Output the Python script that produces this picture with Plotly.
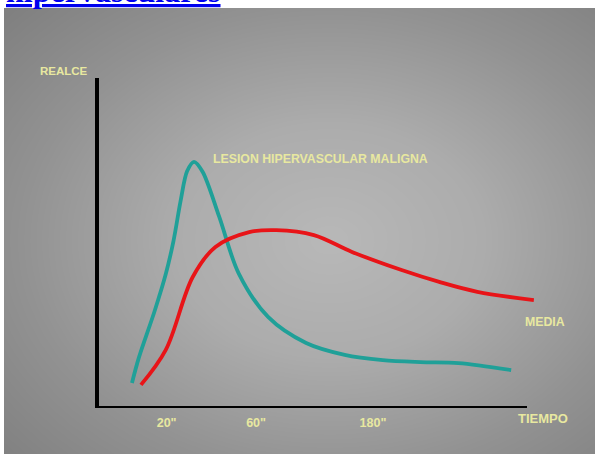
import numpy as np
import plotly.graph_objects as go

# ---- data (arbitrary units: x 0-100 along time axis, y 0-100 enhancement) ----
teal_x = [7.7, 9.3, 13.0, 15.6, 17.4, 19.1, 20.6, 22.2, 24.2, 28.1, 32.6, 39.5, 48.4, 57.4, 66.3, 75.1, 84.0, 96.3]
teal_y = [7.6, 15.2, 29.4, 40.6, 50.6, 63.0, 71.8, 74.6, 71.6, 57.9, 40.9, 27.6, 19.7, 16.1, 14.5, 13.9, 13.6, 11.5]

red_x = [9.8, 15.6, 21.9, 27.2, 35.1, 41.4, 50.2, 59.1, 70.7, 79.5, 88.4, 101.6]
red_y = [7.0, 17.6, 39.7, 48.8, 53.3, 53.9, 52.4, 47.3, 41.8, 38.2, 35.2, 32.7]

tick_vals = [15.8, 36.7, 64.0]
tick_text = ['20"', '60"', '180"']

teal_label = "LESION HIPERVASCULAR MALIGNA"
red_label = "MEDIA"
y_title = "REALCE"
x_title = "TIEMPO"
link_text = "hipervasculares"

W, H = 599, 454
TXT = "rgb(232,232,160)"

# background radial gradient (decoration)
gx = np.linspace(0, 1, 80)
gy = np.linspace(0, 1, 60)
GX, GY = np.meshgrid(gx, gy)
r = np.sqrt(((GX - 0.55) / 0.62) ** 2 + ((GY - 0.52) / 0.62) ** 2)
z = np.clip(r, 0, 1.2)

fig = go.Figure()
fig.add_trace(go.Heatmap(
    x=gx, y=gy, z=z, zsmooth="best", showscale=False, hoverinfo="skip",
    colorscale=[[0, "rgb(184,184,184)"], [0.35, "rgb(172,172,172)"], [0.7, "rgb(146,146,146)"], [1, "rgb(128,128,128)"]],
    zmin=0, zmax=1.2, xaxis="x", yaxis="y"))

fig.add_trace(go.Scatter(x=teal_x, y=teal_y, mode="lines", line=dict(color="rgb(32,160,152)", width=3.8, shape="spline", smoothing=0.9),
                         xaxis="x2", yaxis="y2", hoverinfo="skip"))
fig.add_trace(go.Scatter(x=red_x, y=red_y, mode="lines", line=dict(color="rgb(232,20,24)", width=3.8, shape="spline", smoothing=1.0),
                         xaxis="x2", yaxis="y2", hoverinfo="skip"))

# plot area in pixels
xl, xr = 99, 562
yt, yb = 78, 408
xunit_px = 4.28
x_max = (xr - xl) / xunit_px

fig.update_layout(
    width=W, height=H, margin=dict(l=0, r=0, t=0, b=0),
    paper_bgcolor="white", plot_bgcolor="rgba(0,0,0,0)", showlegend=False,
    xaxis=dict(domain=[4 / W, 595 / W], range=[0, 1], visible=False, fixedrange=True),
    yaxis=dict(domain=[0, (H - 8) / H], range=[1, 0], visible=False, fixedrange=True),
    xaxis2=dict(domain=[xl / W, xr / W], range=[0, x_max], anchor="y2", showgrid=False, zeroline=False,
                showline=False, tickvals=tick_vals, ticktext=tick_text, ticks="",
                tickfont=dict(family="Liberation Sans", size=12.5, color=TXT, weight="bold"), ticklabelstandoff=5),
    yaxis2=dict(domain=[(H - yb) / H, (H - yt) / H], range=[0, 100], anchor="x2", showgrid=False, zeroline=False,
                showline=True, linecolor="black", linewidth=4, showticklabels=False, ticks=""),
    shapes=[dict(type="line", xref="x2", yref="y2", x0=0, x1=100, y0=0, y1=0,
                 line=dict(color="black", width=4))],
    annotations=[
        dict(text=y_title, xref="paper", yref="paper", x=63.5 / W, y=(H - 63) / H, xanchor="center", showarrow=False,
             font=dict(family="Liberation Sans", size=11.5, color=TXT, weight="bold")),
        dict(text=x_title, xref="paper", yref="paper", x=543 / W, y=(H - 428) / H, xanchor="center", showarrow=False,
             font=dict(family="Liberation Sans", size=13, color=TXT, weight="bold")),
        dict(text=teal_label, xref="x2", yref="y2", x=26.2, y=75.5, xanchor="left", showarrow=False,
             font=dict(family="Liberation Sans", size=12.3, color=TXT, weight="bold")),
        dict(text=red_label, xref="x2", yref="y2", x=104.2, y=26.0, xanchor="center", showarrow=False,
             font=dict(family="Liberation Sans", size=12.3, color=TXT, weight="bold")),
        dict(text="<u><b>" + link_text + "</b></u>", xref="paper", yref="paper", x=4 / W, y=1, xanchor="left",
             yanchor="bottom", yshift=-11, showarrow=False,
             font=dict(family="Liberation Serif", size=32, color="rgb(0,0,238)")),
    ],
)

fig.write_html("out.html", config={"displayModeBar": False},
               post_script="document.body.style.margin='0';document.body.style.overflow='hidden';")
